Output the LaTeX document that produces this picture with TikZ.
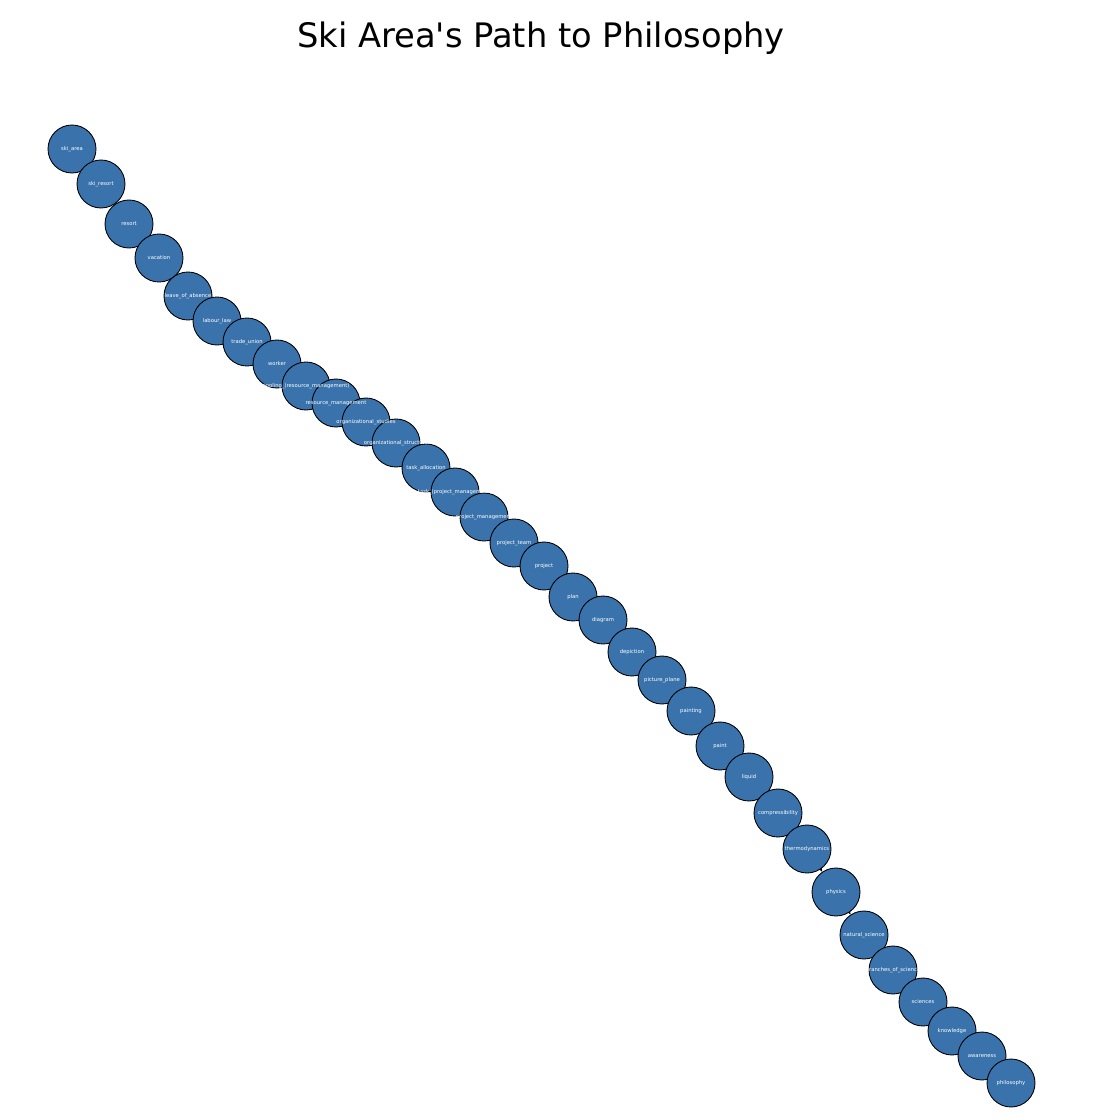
\documentclass[tikz,border=0pt]{standalone}
\usepackage{fontspec}
\setmainfont{DejaVu Sans}
\usetikzlibrary{arrows.meta}

\definecolor{nodeblue}{RGB}{58,115,172}
\pgfdeclarelayer{edges}
\pgfdeclarelayer{tags}
\pgfsetlayers{edges,main,tags}

\begin{document}
\begin{tikzpicture}[
    x=0.02cm, y=-0.02cm,
    % Styles for pages, their names and links
    page/.style={draw=black, circle, fill=nodeblue, line width=0.5pt, minimum size=0.96cm, inner sep=0pt},
    tag/.style={text=white, inner sep=0pt, font=\fontsize{3}{3.6}\selectfont},
    connector/.style={-{Stealth[length=3pt, width=2.4pt]}, line width=0.5pt, black}
]
    \useasboundingbox (0,0) rectangle (1100,1118);

    % --- TITLE ---
    \node (title) at (541,38) {\fontsize{19.2}{23}\selectfont Ski Area\textquotesingle s Path to Philosophy};

    % --- PAGES ---
    % From ski area down to philosophy
    \node [page] (skiarea) at (72,149) {};
    \node [page] (skiresort) at (101,184) {};
    \node [page] (resort) at (129,224) {};
    \node [page] (vacation) at (159,258) {};
    \node [page] (leave) at (188,296) {};
    \node [page] (labourlaw) at (217,321) {};
    \node [page] (tradeunion) at (247,342) {};
    \node [page] (worker) at (277,364) {};
    \node [page] (pooling) at (306,386) {};
    \node [page] (resmgmt) at (336,403) {};
    \node [page] (orgstudies) at (366,422) {};
    \node [page] (orgstructure) at (396,443) {};
    \node [page] (taskalloc) at (426,468) {};
    \node [page] (taskpm) at (455,492) {};
    \node [page] (projmgmt) at (484,517) {};
    \node [page] (projteam) at (514,543) {};
    \node [page] (project) at (544,566) {};
    \node [page] (plan) at (573,597) {};
    \node [page] (diagram) at (603,620) {};
    \node [page] (depiction) at (632,652) {};
    \node [page] (pictureplane) at (662,680) {};
    \node [page] (painting) at (691,711) {};
    \node [page] (paint) at (720,746) {};
    \node [page] (liquid) at (749,777) {};
    \node [page] (compress) at (778,813) {};
    \node [page] (thermo) at (807,849) {};
    \node [page] (physics) at (836,892) {};
    \node [page] (natsci) at (864,935) {};
    \node [page] (branches) at (893,970) {};
    \node [page] (sciences) at (923,1002) {};
    \node [page] (knowledge) at (952,1031) {};
    \node [page] (awareness) at (982,1056) {};
    \node [page] (philosophy) at (1011,1083) {};

    % --- NAMES ---
    % On top of every page
    \begin{pgfonlayer}{tags}
    \node [tag] at (skiarea) {ski\_area};
    \node [tag] at (skiresort) {ski\_resort};
    \node [tag] at (resort) {resort};
    \node [tag] at (vacation) {vacation};
    \node [tag] at (leave) {leave\_of\_absence};
    \node [tag] at (labourlaw) {labour\_law};
    \node [tag] at (tradeunion) {trade\_union};
    \node [tag] at (worker) {worker};
    \node [tag] at (pooling) {pooling\_(resource\_management)};
    \node [tag] at (resmgmt) {resource\_management};
    \node [tag] at (orgstudies) {organizational\_studies};
    \node [tag] at (orgstructure) {organizational\_structure};
    \node [tag] at (taskalloc) {task\_allocation};
    \node [tag] at (taskpm) {task\_(project\_management)};
    \node [tag] at (projmgmt) {project\_management};
    \node [tag] at (projteam) {project\_team};
    \node [tag] at (project) {project};
    \node [tag] at (plan) {plan};
    \node [tag] at (diagram) {diagram};
    \node [tag] at (depiction) {depiction};
    \node [tag] at (pictureplane) {picture\_plane};
    \node [tag] at (painting) {painting};
    \node [tag] at (paint) {paint};
    \node [tag] at (liquid) {liquid};
    \node [tag] at (compress) {compressibility};
    \node [tag] at (thermo) {thermodynamics};
    \node [tag] at (physics) {physics};
    \node [tag] at (natsci) {natural\_science};
    \node [tag] at (branches) {branches\_of\_science};
    \node [tag] at (sciences) {sciences};
    \node [tag] at (knowledge) {knowledge};
    \node [tag] at (awareness) {awareness};
    \node [tag] at (philosophy) {philosophy};
    \end{pgfonlayer}

    % --- LINKS ---
    % Kept under the pages
    \begin{pgfonlayer}{edges}
    \draw [connector] (skiarea) -- (skiresort);
    \draw [connector] (skiresort) -- (resort);
    \draw [connector] (resort) -- (vacation);
    \draw [connector] (vacation) -- (leave);
    \draw [connector] (leave) -- (labourlaw);
    \draw [connector] (labourlaw) -- (tradeunion);
    \draw [connector] (tradeunion) -- (worker);
    \draw [connector] (worker) -- (pooling);
    \draw [connector] (pooling) -- (resmgmt);
    \draw [connector] (resmgmt) -- (orgstudies);
    \draw [connector] (orgstudies) -- (orgstructure);
    \draw [connector] (orgstructure) -- (taskalloc);
    \draw [connector] (taskalloc) -- (taskpm);
    \draw [connector] (taskpm) -- (projmgmt);
    \draw [connector] (projmgmt) -- (projteam);
    \draw [connector] (projteam) -- (project);
    \draw [connector] (project) -- (plan);
    \draw [connector] (plan) -- (diagram);
    \draw [connector] (diagram) -- (depiction);
    \draw [connector] (depiction) -- (pictureplane);
    \draw [connector] (pictureplane) -- (painting);
    \draw [connector] (painting) -- (paint);
    \draw [connector] (paint) -- (liquid);
    \draw [connector] (liquid) -- (compress);
    \draw [connector] (compress) -- (thermo);
    \draw [connector] (thermo) -- (physics);
    \draw [connector] (physics) -- (natsci);
    \draw [connector] (natsci) -- (branches);
    \draw [connector] (branches) -- (sciences);
    \draw [connector] (sciences) -- (knowledge);
    \draw [connector] (knowledge) -- (awareness);
    \draw [connector] (awareness) -- (philosophy);
    \end{pgfonlayer}

\end{tikzpicture}
\end{document}
